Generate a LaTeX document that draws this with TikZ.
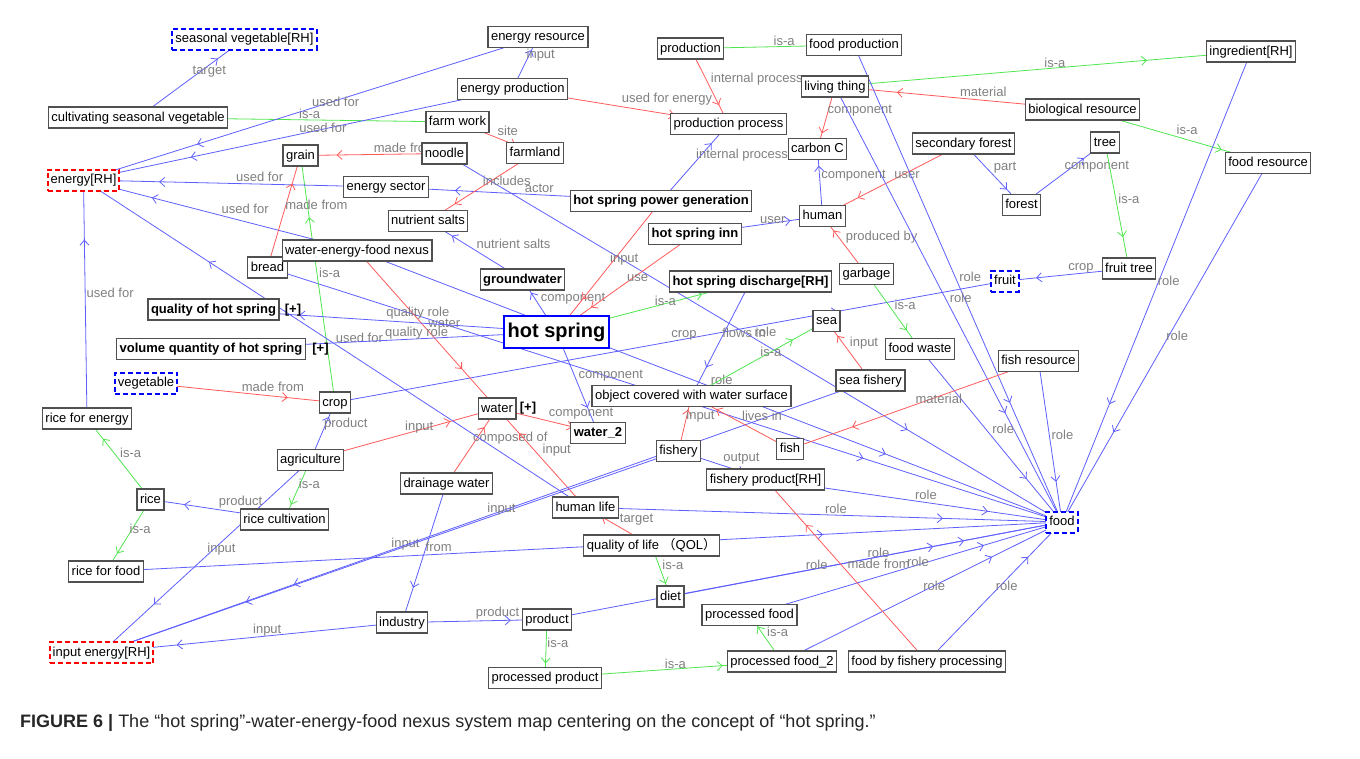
\documentclass[tikz,border=0pt]{standalone}
\usepackage{fontspec}
\setmainfont{Liberation Sans}
\newfontfamily\cjk{Noto Sans CJK SC}
\usetikzlibrary{arrows.meta,decorations.markings}
\definecolor{eblue}{RGB}{95,95,255}
\definecolor{ered}{RGB}{255,90,90}
\definecolor{egreen}{RGB}{80,230,80}
\definecolor{lgray}{RGB}{128,128,128}
\definecolor{nborder}{RGB}{80,80,80}
\pgfdeclarelayer{bg}
\pgfdeclarelayer{edges}
\pgfsetlayers{bg,edges,main}
\tikzset{
 nd/.style={draw=nborder, line width=1.2pt, fill=white, inner xsep=3pt, inner ysep=0pt, minimum height=21pt, text height=9.5pt, text depth=2.5pt, font=\fontsize{13}{15}\selectfont},
 bnd/.style={nd, font=\fontsize{13}{15}\selectfont\bfseries},
 rhb/.style={nd, draw=blue, dash pattern=on 5pt off 3pt, line width=2pt},
 rhr/.style={rhb, draw=red},
 hsnode/.style={draw=blue, line width=2pt, fill=white, inner xsep=4pt, inner ysep=0pt, minimum height=32pt, text height=14pt, text depth=4pt, font=\fontsize{20}{24}\selectfont\bfseries},
 plus/.style={font=\fontsize{13}{15}\selectfont\bfseries, inner sep=0pt},
 lbl/.style={font=\fontsize{13}{15}\selectfont, text=lgray, inner sep=1pt, anchor=south west},
 conn/.style={line width=0.8pt, postaction={decorate}, decoration={markings, mark=at position 0.75 with {\arrow{Straight Barb[length=5pt,width=9pt]}}}},
 cb/.style={conn, draw=eblue},
 cr/.style={conn, draw=ered},
 cg/.style={conn, draw=egreen},
}
\newcommand\edgeX[4]{\draw[#1] (#2.center) -- node[lbl]{#4} (#3.center);}
\begin{document}
\begin{tikzpicture}[x=1pt,y=-1pt]
\useasboundingbox (0,0) rectangle (1360,758);
\begin{pgfonlayer}{bg}
\fill[white] (0,0) rectangle (1360,758);
\end{pgfonlayer}
% nodes
\node[rhb] (sveg) at (244.5,39) {seasonal vegetable[RH]};
\node[nd] (cultsv) at (138,117.5) {cultivating seasonal vegetable};
\node[rhr] (energy) at (83.5,180) {energy[RH]};
\node[nd] (grain) at (300.5,155.5) {grain};
\node[nd] (eres) at (538,37) {energy resource};
\node[nd] (eprod) at (512.5,89) {energy production};
\node[nd] (farmwork) at (457.5,122) {farm work};
\node[nd] (noodle) at (444.5,153.5) {noodle};
\node[nd] (farmland) at (535,153) {farmland};
\node[nd] (esector) at (386,187) {energy sector};
\node[nd] (nsalts) at (428,221) {nutrient salts};
\node[bnd] (hspg) at (661,201) {hot spring power generation};
\node[nd] (production) at (690.5,48.5) {production};
\node[nd] (foodprod) at (854,45) {food production};
\node[nd] (living) at (835,86.5) {living thing};
\node[nd] (pprocess) at (728.5,124) {production process};
\node[nd] (carbon) at (817.5,149) {carbon C};
\node[nd] (secforest) at (963.5,143.5) {secondary forest};
\node[nd] (human) at (822.5,216) {human};
\node[bnd] (inn) at (695,234) {hot spring inn};
\node[nd] (ingredient) at (1251,51.5) {ingredient[RH]};
\node[nd] (biores) at (1082.5,109.5) {biological resource};
\node[nd] (tree) at (1105,142.5) {tree};
\node[nd] (forest) at (1021.5,205) {forest};
\node[nd] (foodres) at (1268,163) {food resource};
\node[nd] (bread) at (267.5,267.5) {bread};
\node[nd] (nexus) at (357,250.5) {water-energy-food nexus};
\node[bnd] (qhs) at (213.5,309.5) {quality of hot spring};
\node[plus] (qhsp) at (293,310) {[+]};
\node[bnd] (vqhs) at (211,349) {volume quantity of hot spring};
\node[plus] (vqhsp) at (320.5,349) {[+]};
\node[rhb] (vegetable) at (146,383) {vegetable};
\node[nd] (crop) at (335,402.5) {crop};
\node[nd] (rfe) at (87,418.5) {rice for energy};
\node[nd] (agri) at (310.5,460) {agriculture};
\node[bnd] (groundwater) at (522.5,279.5) {groundwater};
\node[hsnode] (hs) at (556.5,332) {hot spring};
\node[nd] (water) at (497,408.5) {water};
\node[plus] (waterp) at (528,408) {[+]};
\node[bnd] (water2) at (598,433) {water\_2};
\node[nd] (ocws) at (691.5,396) {object covered with water surface};
\node[bnd] (discharge) at (750.5,281.5) {hot spring discharge[RH]};
\node[nd] (garbage) at (866.5,274) {garbage};
\node[nd] (sea) at (826.5,321) {sea};
\node[nd] (foodwaste) at (920,349) {food waste};
\node[nd] (seafish) at (870.5,380.5) {sea fishery};
\node[nd] (fish) at (790,449) {fish};
\node[nd] (fishery) at (678.5,451) {fishery};
\node[nd] (fishres) at (1038.5,361) {fish resource};
\node[nd] (fruittree) at (1129,268.5) {fruit tree};
\node[rhb] (fruit) at (1005,281) {fruit};
\node[nd] (rice) at (150.5,499.5) {rice};
\node[nd] (ricecult) at (284.5,519.5) {rice cultivation};
\node[nd] (rff) at (106,571.5) {rice for food};
\node[rhr] (inputenergy) at (101.5,652.5) {input energy[RH]};
\node[nd] (drainage) at (446.5,483.5) {drainage water};
\node[nd] (humanlife) at (585.5,507.5) {human life};
\node[nd] (qol) at (651.5,545.5) {quality of life {\cjk （}QOL{\cjk ）}};
\node[nd] (diet) at (670.5,596.5) {diet};
\node[nd] (industry) at (402,622.5) {industry};
\node[nd] (product) at (547,619.5) {product};
\node[nd] (pproduct) at (545,678) {processed product};
\node[nd] (fprod) at (765.5,479.5) {fishery product[RH]};
\node[nd] (pfood) at (749.5,615) {processed food};
\node[nd] (pfood2) at (782,661.5) {processed food\_2};
\node[nd] (fbfp) at (927,661.5) {food by fishery processing};
\node[rhb] (food) at (1062,522) {food};
\node[anchor=west, inner sep=0pt, font=\fontsize{18}{21}\selectfont, text=black!85] (cap) at (20,723) {\textbf{FIGURE 6 |} The “hot spring”-water-energy-food nexus system map centering on the concept of “hot spring.”};
% edges
\begin{pgfonlayer}{edges}
\edgeX{cb}{cultsv}{sveg}{target}
\edgeX{cg}{farmwork}{cultsv}{is-a}
\edgeX{cb}{eres}{energy}{used for}
\edgeX{cb}{eprod}{energy}{used for}
\edgeX{cb}{eprod}{eres}{input}
\edgeX{cr}{eprod}{pprocess}{used for energy}
\edgeX{cg}{production}{foodprod}{is-a}
\edgeX{cr}{production}{pprocess}{internal process}
\edgeX{cb}{hspg}{pprocess}{internal process}
\edgeX{cg}{living}{ingredient}{is-a}
\edgeX{cr}{biores}{living}{material}
\edgeX{cr}{living}{carbon}{component}
\edgeX{cb}{human}{carbon}{component}
\edgeX{cr}{secforest}{human}{user}
\edgeX{cb}{inn}{human}{user}
\edgeX{cr}{garbage}{human}{produced by}
\edgeX{cb}{secforest}{forest}{part}
\edgeX{cb}{forest}{tree}{component}
\edgeX{cg}{tree}{fruittree}{is-a}
\edgeX{cb}{fruittree}{fruit}{crop}
\edgeX{cg}{biores}{foodres}{is-a}
\edgeX{cb}{foodprod}{food}{role}
\edgeX{cb}{living}{food}{role}
\edgeX{cb}{ingredient}{food}{role}
\edgeX{cb}{foodres}{food}{role}
\edgeX{cb}{fishres}{food}{role}
\edgeX{cb}{foodwaste}{food}{role}
\edgeX{cb}{noodle}{food}{role}
\edgeX{cb}{nexus}{food}{role}
\edgeX{cb}{bread}{food}{}
\edgeX{cb}{fprod}{food}{role}
\edgeX{cb}{humanlife}{food}{role}
\edgeX{cb}{rff}{food}{}
\edgeX{cb}{diet}{food}{role}
\edgeX{cb}{product}{food}{role}
\edgeX{cb}{pfood}{food}{role}
\edgeX{cb}{pfood2}{food}{role}
\edgeX{cb}{fbfp}{food}{role}
\edgeX{cr}{fbfp}{fprod}{made from}
\edgeX{cg}{pfood2}{pfood}{is-a}
\edgeX{cg}{pproduct}{pfood2}{is-a}
\edgeX{cg}{product}{pproduct}{is-a}
\edgeX{cb}{industry}{product}{product}
\edgeX{cb}{industry}{inputenergy}{input}
\edgeX{cb}{drainage}{industry}{from}
\edgeX{cr}{drainage}{water}{composed of}
\edgeX{cr}{humanlife}{water}{input}
\edgeX{cr}{qol}{humanlife}{target}
\edgeX{cg}{qol}{diet}{is-a}
\edgeX{cb}{fishery}{inputenergy}{input}
\edgeX{cb}{seafish}{inputenergy}{input}
\edgeX{cb}{agri}{inputenergy}{input}
\edgeX{cb}{ricecult}{rice}{product}
\edgeX{cg}{agri}{ricecult}{is-a}
\edgeX{cb}{agri}{crop}{product}
\edgeX{cr}{agri}{water}{input}
\edgeX{cg}{rice}{rfe}{is-a}
\edgeX{cg}{rice}{rff}{is-a}
\edgeX{cb}{rfe}{energy}{used for}
\edgeX{cr}{vegetable}{crop}{made from}
\edgeX{cg}{crop}{grain}{is-a}
\edgeX{cb}{crop}{fruit}{crop}
\edgeX{cr}{nexus}{water}{water}
\edgeX{cb}{nexus}{energy}{used for}
\edgeX{cb}{humanlife}{energy}{used for}
\edgeX{cb}{hs}{qhs}{quality role}
\edgeX{cb}{hs}{vqhs}{quality role}
\edgeX{cb}{hs}{groundwater}{component}
\edgeX{cb}{groundwater}{nsalts}{nutrient salts}
\edgeX{cr}{hspg}{hs}{input}
\edgeX{cr}{inn}{hs}{use}
\edgeX{cg}{hs}{discharge}{is-a}
\edgeX{cb}{hs}{water2}{component}
\edgeX{cr}{water}{water2}{component}
\edgeX{cb}{discharge}{ocws}{flows in}
\edgeX{cg}{ocws}{sea}{is-a}
\edgeX{cr}{seafish}{sea}{input}
\edgeX{cg}{garbage}{foodwaste}{is-a}
\edgeX{cr}{fishres}{fish}{material}
\edgeX{cr}{fish}{ocws}{lives in}
\edgeX{cr}{fishery}{ocws}{input}
\edgeX{cb}{fishery}{fprod}{output}
\edgeX{cb}{hspg}{esector}{actor}
\edgeX{cb}{esector}{energy}{used for}
\edgeX{cr}{farmwork}{farmland}{site}
\edgeX{cr}{farmland}{nsalts}{includes}
\edgeX{cr}{noodle}{grain}{made from}
\edgeX{cr}{bread}{grain}{made from}
\end{pgfonlayer}
\end{tikzpicture}
\end{document}
